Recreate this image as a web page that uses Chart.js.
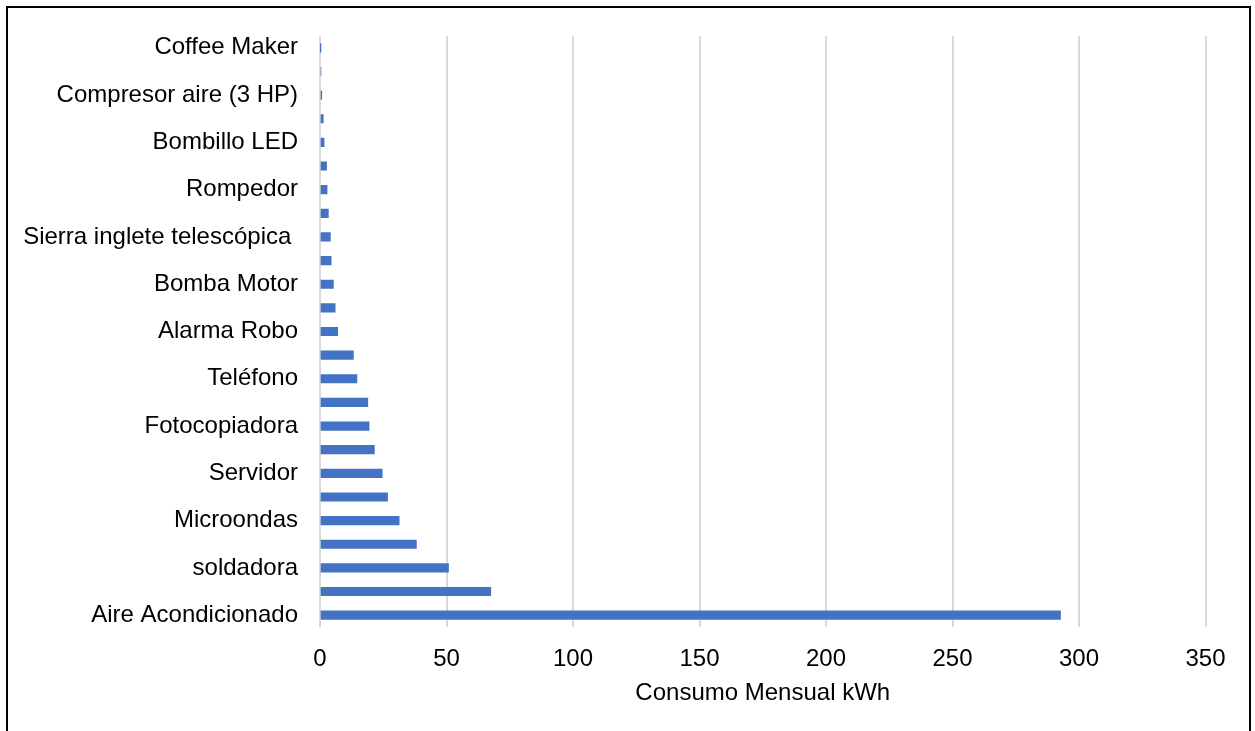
<!DOCTYPE html>
<html>
<head>
<meta charset="utf-8">
<script src="https://cdn.jsdelivr.net/npm/chart.js@4/dist/chart.umd.min.js"></script>
<style>
  html, body { margin: 0; padding: 0; background: #fff; overflow: hidden; }
  #frame { position: absolute; left: 6px; top: 6px; width: 1241px; height: 760px; border: 2px solid #000; }
  #wrap { position: absolute; left: 0; top: 0; width: 1255px; height: 731px; }
</style>
</head>
<body>
<div id="frame"></div>
<div id="wrap"><canvas id="c" width="1255" height="731"></canvas></div>
<script>
// Appliances, top to bottom; only every other name is printed on the axis
const categories = [
  'Coffee Maker', '', 'Compresor aire (3 HP)', '', 'Bombillo LED', '',
  'Rompedor', '', 'Sierra inglete telescópica ', '', 'Bomba Motor', '',
  'Alarma Robo', '', 'Teléfono', '', 'Fotocopiadora', '', 'Servidor', '',
  'Microondas', '', 'soldadora', '', 'Aire Acondicionado'
];
// Monthly consumption in kWh
const consumoKWh = [
  0.03, 0.4, 0.7, 1.3, 1.6, 2.6,
  2.8, 3.3, 4.1, 4.4, 5.3, 6.0,
  7.0, 13.2, 14.6, 18.9, 19.4, 21.5, 24.6, 26.7,
  31.3, 38.1, 50.8, 67.5, 292.7
];
const xTicks = [0, 50, 100, 150, 200, 250, 300, 350];
const axisTitle = 'Consumo Mensual kWh';

const font = { family: "'Liberation Sans', Arial, sans-serif", size: 24 };

new Chart(document.getElementById('c'), {
  type: 'bar',
  data: {
    labels: categories,
    datasets: [{
      data: consumoKWh,
      backgroundColor: '#4472C4',
      borderWidth: 0,
      barThickness: 8.5
    }]
  },
  options: {
    indexAxis: 'y',
    responsive: false,
    animation: false,
    layout: { padding: { left: 10, top: 36, right: 49.5, bottom: 0 } },
    plugins: { legend: { display: false }, tooltip: { enabled: false } },
    scales: {
      y: {
        grid: { display: false },
        border: { display: false },
        ticks: {
          autoSkip: false,
          color: '#000',
          font: font,
          padding: 14,
          callback: function (v, i) { return i % 2 === 0 ? categories[i] : ''; }
        },
        afterFit: function (s) { s.width = 310; }
      },
      x: {
        min: 0,
        max: 350,
        afterBuildTicks: function (s) { s.ticks = xTicks.map(v => ({ value: v })); },
        grid: { color: '#d9d9d9', lineWidth: 2, drawTicks: false },
        border: { display: false },
        ticks: { color: '#000', font: font, padding: 18 },
        title: {
          display: true,
          text: axisTitle,
          color: '#000',
          font: font,
          padding: { top: 0, bottom: 23 }
        },
        afterFit: function (s) { s.height = 104; }
      }
    }
  }
});
</script>
</body>
</html>
